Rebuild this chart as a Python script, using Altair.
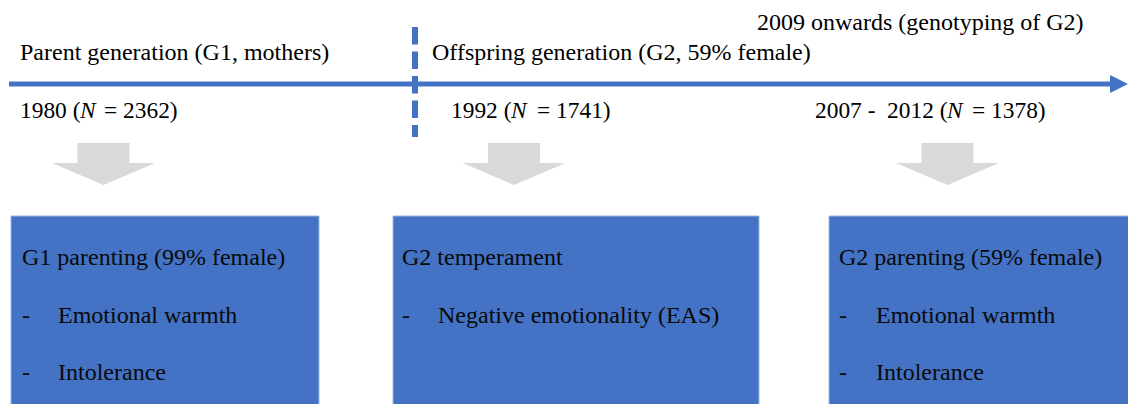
import altair as alt
import pandas as pd

# ---- content ----
phase_labels = ["Parent generation (G1, mothers)",
                "Offspring generation (G2, 59% female)",
                "2009 onwards (genotyping of G2)"]
wave_years = ["1980 (", "1992 (", "2007 -\u00a0 2012 ("]
wave_n = ["= 2362)", "= 1741)", "= 1378)"]
box_titles = ["G1 parenting (99% female)", "G2 temperament", "G2 parenting (59% female)"]
box_items = [["Emotional warmth", "Intolerance"],
             ["Negative emotionality (EAS)"],
             ["Emotional warmth", "Intolerance"]]

# ---- layout (reference pixel space) ----
phase_pos = [(20, 60), (432, 60), (757, 30)]
year_x = [20, 451, 815]
n_x = [80, 511, 947]
eq_x = [104, 537, 972]
year_y = 118
box_x = [(11, 319), (393, 759), (829, 1140)]
box_y = (216, 420)
box_text_x = [22, 402, 839]
item_x = [58, 438, 876]
title_y = 265
item_y = [323, 380]
arrow_x = [103.5, 514, 947.5]
arrow_y = 164

BLUE = "#4472C4"
FONT = "'Liberation Serif', 'Times New Roman', 'DejaVu Serif', serif"
FS = 24
FS_YEAR = 23.4

texts = []
for lbl, (x, y) in zip(phase_labels, phase_pos):
    texts.append(dict(x=x, y=y, t=lbl, st="normal", c="#000000", fs=FS))
for i in range(3):
    texts.append(dict(x=year_x[i], y=year_y, t=wave_years[i], st="normal", c="#000000", fs=FS_YEAR))
    texts.append(dict(x=n_x[i], y=year_y, t="N", st="italic", c="#000000", fs=FS_YEAR))
    texts.append(dict(x=eq_x[i], y=year_y, t=wave_n[i], st="normal", c="#000000", fs=FS_YEAR))
    texts.append(dict(x=box_text_x[i], y=title_y, t=box_titles[i], st="normal", c="#0a0a0a", fs=FS))
    for j, it in enumerate(box_items[i]):
        texts.append(dict(x=box_text_x[i], y=item_y[j], t="-", st="normal", c="#0a0a0a", fs=FS))
        texts.append(dict(x=item_x[i], y=item_y[j], t=it, st="normal", c="#0a0a0a", fs=FS))
tdf = pd.DataFrame(texts)

# chart + 8px page margins fill the 1136x412 window exactly (no rescaling)
W, H = 1120, 396
X = alt.Scale(domain=[8, 1128], range=[0, W], nice=False, zero=False)
Y = alt.Scale(domain=[404, 8], range=[H, 0], nice=False, zero=False)

boxes = pd.DataFrame([dict(x=a, x2=b, y=box_y[0], y2=box_y[1]) for a, b in box_x])
box_layer = alt.Chart(boxes).mark_rect(fill=BLUE, stroke="#9fb6e2", strokeWidth=1, clip=True).encode(
    x=alt.X("x:Q", scale=X, axis=None), x2="x2:Q",
    y=alt.Y("y:Q", scale=Y, axis=None), y2="y2:Q")

hline = alt.Chart(pd.DataFrame([dict(x=9, x2=1115, y=84)])).mark_rule(
    color=BLUE, strokeWidth=5).encode(
    x=alt.X("x:Q", scale=X, axis=None), x2="x2:Q", y=alt.Y("y:Q", scale=Y, axis=None))

head = alt.Chart(pd.DataFrame([dict(x=1119, y=84)])).mark_point(
    shape="M-1,-1L1,0L-1,1Z", size=324, filled=True, fill=BLUE, opacity=1, strokeWidth=0).encode(
    x=alt.X("x:Q", scale=X, axis=None), y=alt.Y("y:Q", scale=Y, axis=None))

vline = alt.Chart(pd.DataFrame([dict(x=415, y=27, y2=137)])).mark_rule(
    color=BLUE, strokeWidth=6, strokeDash=[17.5, 7]).encode(
    x=alt.X("x:Q", scale=X, axis=None), y=alt.Y("y:Q", scale=Y, axis=None), y2="y2:Q")

arrow_path = ("M-0.505,-0.408L0.505,-0.408L0.505,-0.02L1,-0.02L0,0.408"
              "L-1,-0.02L-0.505,-0.02Z")
garrows = alt.Chart(pd.DataFrame([dict(x=a, y=arrow_y) for a in arrow_x])).mark_point(
    shape=arrow_path, size=103 * 103, filled=True, fill="#d9d9d9", opacity=1, strokeWidth=0).encode(
    x=alt.X("x:Q", scale=X, axis=None), y=alt.Y("y:Q", scale=Y, axis=None))


def text_layer(style):
    return alt.Chart(tdf).transform_filter(alt.datum.st == style).mark_text(
        font=FONT, fontStyle=style, align="left", baseline="alphabetic").encode(
        x=alt.X("x:Q", scale=X, axis=None), y=alt.Y("y:Q", scale=Y, axis=None),
        text="t:N", color=alt.Color("c:N", scale=None),
        size=alt.Size("fs:Q", scale=None, legend=None))


chart = alt.layer(box_layer, hline, head, vline, garrows,
                  text_layer("normal"), text_layer("italic")).properties(
    width=W, height=H, padding=0, autosize=alt.AutoSizeParams(type="none"),
    background="white"
).configure_view(strokeWidth=0)

chart.save("out.html", embed_options={"renderer": "svg", "actions": False})
